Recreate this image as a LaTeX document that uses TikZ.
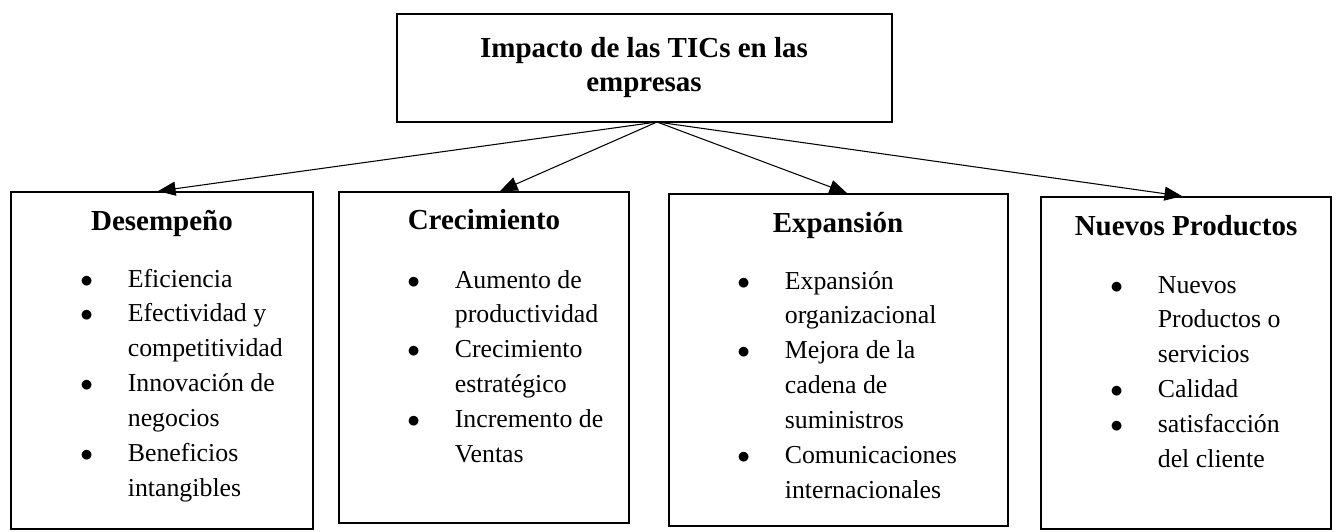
\documentclass[tikz,border=0pt]{standalone}
\usepackage{fontspec}
\setmainfont{Liberation Serif}
\usetikzlibrary{arrows.meta,fit}

\tikzset{
  box/.style={draw, line width=1pt, inner sep=0pt},
  head/.style={font=\fontsize{16.5}{19}\selectfont\bfseries, inner sep=0pt, anchor=base},
  items/.style={font=\fontsize{14.7}{19.9}\selectfont, inner sep=0pt, anchor=base west},
  link/.style={-{Triangle[length=10pt,width=8pt]}, line width=0.6pt}
}
\newcommand{\itm}{$\bullet$ &}
\newenvironment{bullets}{\begin{tabular}[t]{@{}p{0.95cm}@{}l@{}}}{\end{tabular}}

\begin{document}
\begin{tikzpicture}[x=0.02cm, y=-0.02cm]
    \useasboundingbox (0,0) rectangle (1337,531);

    % top box
    \node[box, line width=0.8pt, fit={(397,14) (892,122)}] (top) {};
    \node[font=\fontsize{16.5}{18.8}\selectfont\bfseries, align=center, inner sep=0pt, anchor=base] (title) at (644,91)
        {Impacto de las TICs en las\\ empresas};
    \coordinate (src) at (657,122);

    %%%%%%%%%%%%%%%%%%%%%%%%%%%%%%%%%%%%%%%%%%%%%%%%%%%%%%

    \node[box, fit={(11,192) (313,529)}] (desem) {};
    \node[head] (hdesem) at (162,230) {Desempeño};
    \node[items] (ldesem) at (80,287) {\begin{bullets}
        \itm Eficiencia\\ \itm Efectividad y\\ & competitividad\\
        \itm Innovación de\\ & negocios\\ \itm Beneficios\\ & intangibles
      \end{bullets}};

    \node[box, fit={(339,192) (629,523)}] (crec) {};
    \node[head] (hcrec) at (484,229) {Crecimiento};
    \node[items] (lcrec) at (407,288) {\begin{bullets}
        \itm Aumento de\\ & productividad\\ \itm Crecimiento\\
        & estratégico\\ \itm Incremento de\\ & Ventas
      \end{bullets}};

    \node[box, fit={(669,194) (1008,526)}] (expan) {};
    \node[head] (hexpan) at (838,232) {Expansión};
    \node[items] (lexpan) at (737,289) {\begin{bullets}
        \itm Expansión\\ & organizacional\\ \itm Mejora de la\\
        & cadena de\\ & suministros\\ \itm Comunicaciones\\ & internacionales
      \end{bullets}};

    \node[box, fit={(1041,197) (1331,529)}] (nuevos) {};
    \node[head] (hnuevos) at (1186,235) {Nuevos Productos};
    \node[items] (lnuevos) at (1110,293) {\begin{bullets}
        \itm Nuevos\\ & Productos o\\ & servicios\\
        \itm Calidad\\ \itm satisfacción\\ & del cliente
      \end{bullets}};

    %%%%%%%%%%%%%%%%%%%%%%%%%%%%%%%%%%%%%%%%%%%%%%%%%%%%%%

    \draw[link] (src) -- ([xshift=-0.08cm]desem.north);
    \draw[link] (src) -- ([xshift=0.32cm]crec.north);
    \draw[link] (src) -- ([xshift=0.17cm]expan.north);
    \draw[link] (src) -- ([xshift=-0.08cm]nuevos.north);
\end{tikzpicture}
\end{document}
